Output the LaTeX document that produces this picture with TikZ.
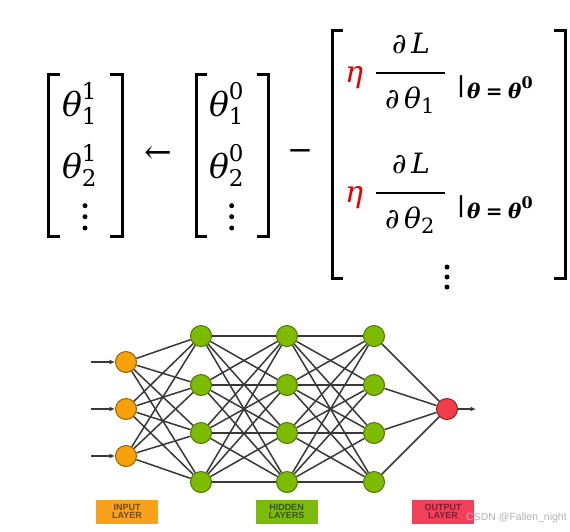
\RequirePackage{fix-cm}
\documentclass[tikz,border=0pt]{standalone}
\usepackage{amsmath}
\usepackage{fontspec}
\newfontfamily\labelfont{Liberation Sans}
\newfontfamily\dvs{DejaVu Serif}
\usetikzlibrary{arrows.meta}
\DeclareMathSizes{33}{33}{23}{18}
\DeclareMathSizes{28}{28}{21}{16}
\DeclareMathSizes{20}{20}{16}{12}
\newcommand\myth{\text{\dvs\itshape θ}}
\newcommand\mypd{\text{\dvs\itshape ∂}}
\newcommand\myL{\text{\dvs\itshape L}}
\newcommand\mydig[1]{\text{\dvs #1}}
\newcommand\mybth{\text{\dvs\bfseries\itshape θ}}
\newcommand\mybeq{\mathrel{\text{\dvs\bfseries =}}}
\definecolor{inorange}{HTML}{F7A10A}
\definecolor{inorangedk}{HTML}{9A6200}
\definecolor{hgreen}{HTML}{7DBB00}
\definecolor{hgreendk}{HTML}{4E7800}
\definecolor{ored}{HTML}{F23D4C}
\definecolor{oreddk}{HTML}{8A1E2A}
\definecolor{edgegray}{HTML}{383838}
\definecolor{labin}{HTML}{F9A11B}
\definecolor{labhid}{HTML}{7DBB0A}
\definecolor{labout}{HTML}{F2405A}
\definecolor{labintxt}{HTML}{6E4A12}
\definecolor{labhidtxt}{HTML}{3A5212}
\definecolor{labouttxt}{HTML}{7A2030}
\definecolor{etared}{HTML}{E80000}
\begin{document}
\begin{tikzpicture}[x=1pt,y=-1pt,
  big/.style={inner sep=0pt, outer sep=0pt, font=\fontsize{33}{40}\selectfont},
  op/.style={inner sep=0pt, outer sep=0pt, font=\dvs\fontsize{33}{40}\selectfont},
  etan/.style={inner sep=0pt, outer sep=0pt, text=etared, font=\dvs\itshape\fontsize{30}{36}\selectfont},
  frac/.style={inner sep=0pt, outer sep=0pt, font=\fontsize{28}{34}\selectfont},
  mid/.style={inner sep=0pt, outer sep=0pt, font=\fontsize{20}{24}\selectfont},
  vbar/.style={inner sep=0pt, outer sep=0pt, font=\dvs\bfseries\fontsize{22}{26}\selectfont},
  bracket/.style={line width=3pt, line cap=butt, line join=miter},
  fracbar/.style={line width=2.6pt},
  neuron/.style={circle, minimum size=21pt, inner sep=0pt, line width=1pt},
  inp/.style={neuron, fill=inorange, draw=inorangedk},
  hid/.style={neuron, fill=hgreen, draw=hgreendk},
  outn/.style={neuron, fill=ored, draw=oreddk},
  edge/.style={draw=edgegray, line width=1.5pt},
  inarrow/.style={draw=edgegray, line width=2.2pt, -{Latex[length=5.5pt,width=5pt]}},
  outarrow/.style={draw=edgegray, line width=1.6pt, -{Latex[length=5.5pt,width=5pt]}},
  lab/.style={minimum width=62pt, minimum height=24pt, inner sep=0pt, align=center,
    font=\labelfont\bfseries\fontsize{9}{8}\selectfont}
]
\useasboundingbox[fill=white] (0,0) rectangle (570,531);

% ---------- formula ----------
% first matrix
\draw[bracket] (60,74) -- (48,74) -- (48,236) -- (60,236);
\draw[bracket] (110,74) -- (122,74) -- (122,236) -- (110,236);
\node[big, anchor=base west] (a1) at (62,116) {$\myth_{\mydig{1}}^{\mydig{1}}$};
\node[big, anchor=base west] (a2) at (62,178) {$\myth_{\mydig{2}}^{\mydig{1}}$};
\foreach \yy in {205.7,216.7,228} \fill (85,\yy) circle[radius=2.5pt];

\node[op] (larrow) at (158,155) {←};

% second matrix
\draw[bracket] (207,74) -- (196,74) -- (196,236) -- (207,236);
\draw[bracket] (257,74) -- (268,74) -- (268,236) -- (257,236);
\node[big, anchor=base west] (b1) at (209,116) {$\myth_{\mydig{1}}^{\mydig{0}}$};
\node[big, anchor=base west] (b2) at (209,178) {$\myth_{\mydig{2}}^{\mydig{0}}$};
\foreach \yy in {205.7,216.7,228} \fill (231.7,\yy) circle[radius=2.5pt];

\node[op, font=\dvs\fontsize{31}{38}\selectfont] (minus) at (300,155) {−};

% gradient vector
\draw[bracket] (343,30) -- (332,30) -- (332,278) -- (343,278);
\draw[bracket] (554,30) -- (565,30) -- (565,278) -- (554,278);

\node[etan, anchor=base west] (eta1) at (345,82) {η};
\node[frac, anchor=base] (num1) at (411,53) {$\mypd\,\myL$};
\draw[fracbar] (376,73) -- (445,73);
\node[frac, anchor=base] (den1) at (410,108) {$\mypd\,\myth_{\mydig{1}}$};
\node[vbar, anchor=base west] (bar1) at (457,92.8) {|};
\node[mid, anchor=base west] (sub1) at (467,98) {$\mybth\mybeq\mybth^{\text{\dvs\bfseries 0}}$};

\node[etan, anchor=base west] (eta2) at (345,202) {η};
\node[frac, anchor=base] (num2) at (411,173) {$\mypd\,\myL$};
\draw[fracbar] (376,193) -- (445,193);
\node[frac, anchor=base] (den2) at (410,228) {$\mypd\,\myth_{\mydig{2}}$};
\node[vbar, anchor=base west] (bar2) at (457,212.8) {|};
\node[mid, anchor=base west] (sub2) at (467,218) {$\mybth\mybeq\mybth^{\text{\dvs\bfseries 0}}$};

\foreach \yy in {267,277,287} \fill (447,\yy) circle[radius=2.5pt];

% ---------- network ----------
\node[inp] (i1) at (126,362) {};
\node[inp] (i2) at (126,409) {};
\node[inp] (i3) at (126,456) {};
\foreach \k/\yy in {1/336,2/385,3/433,4/482} {
  \node[hid] (ha\k) at (201,\yy) {};
  \node[hid] (hb\k) at (287,\yy) {};
  \node[hid] (hc\k) at (374,\yy) {};
}
\node[outn] (o) at (447,409) {};

\foreach \a in {1,2,3} \foreach \b in {1,2,3,4} \draw[edge] (i\a) -- (ha\b);
\foreach \a in {1,2,3,4} \foreach \b in {1,2,3,4} {
  \draw[edge] (ha\a) -- (hb\b);
  \draw[edge] (hb\a) -- (hc\b);
}
\foreach \a in {1,2,3,4} \draw[edge] (hc\a) -- (o);

\coordinate (ia1) at (91,362);
\coordinate (ia2) at (91,409);
\coordinate (ia3) at (91,456);
\foreach \a in {1,2,3} \draw[inarrow] (ia\a) -- (i\a);
\coordinate (oa) at (476,409);
\draw[outarrow] (o) -- (oa);

% labels
\node[lab, fill=labin, text=labintxt] (lin) at (127,511.5) {INPUT\\LAYER};
\node[lab, fill=labhid, text=labhidtxt] (lhid) at (286.5,511.5) {HIDDEN\\LAYERS};
\node[lab, fill=labout, text=labouttxt] (lout) at (443,511.5) {OUTPUT\\LAYER};

\node[anchor=west, inner sep=0pt, text=gray!60, font=\labelfont\fontsize{10.5}{12}\selectfont] (wm) at (466,518) {CSDN @Fallen\_night};
\end{tikzpicture}
\end{document}
